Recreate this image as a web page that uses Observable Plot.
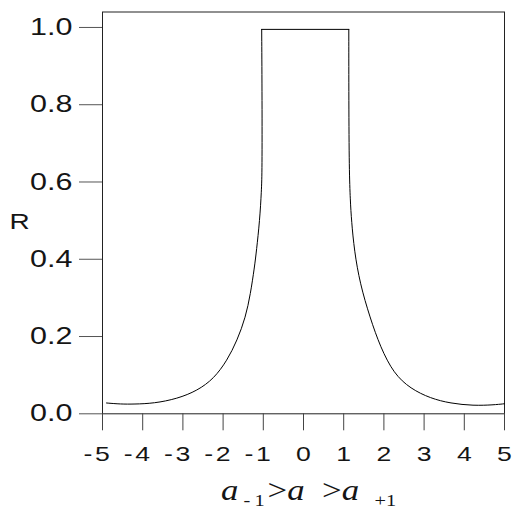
<!DOCTYPE html>
<html>
<head>
<meta charset="utf-8">
<script src="https://cdn.jsdelivr.net/npm/d3@7"></script>
<script src="https://cdn.jsdelivr.net/npm/@observablehq/plot@0.6"></script>
<style>
  html, body { margin: 0; padding: 0; background: #fff; }
</style>
</head>
<body>
<div id="chart"></div>
<script>
// Reflectance R across the ratio axis: a flat plateau between the two
// limits, falling off into long tails on either side.
const leftX  = [-4.90, -4.55, -4.22, -3.72, -3.14, -2.64, -2.23, -1.90, -1.65, -1.44, -1.32, -1.22, -1.17, -1.09, -1.045, -1.03, -1.03, -1.04];
const leftR  = [0.028, 0.025, 0.025, 0.027, 0.039, 0.060, 0.091, 0.138, 0.190, 0.250, 0.310, 0.379, 0.422, 0.500, 0.578, 0.629, 0.810, 0.995];
const topX   = [-1.04, 1.127];
const topR   = [0.995, 0.995];
const rightX = [1.127, 1.127, 1.137, 1.164, 1.194, 1.264, 1.405, 1.654, 1.915, 2.246, 2.662, 3.159, 3.657, 4.229, 4.726, 5.00];
const rightR = [0.995, 0.811, 0.630, 0.552, 0.500, 0.422, 0.337, 0.249, 0.172, 0.104, 0.065, 0.040, 0.027, 0.021, 0.023, 0.026];

const xTicks = [-5, -4, -3, -2, -1, 0, 1, 2, 3, 4, 5];
const yTicks = [0, 0.2, 0.4, 0.6, 0.8, 1.0];
const yLabel = "R";
// x-axis title pieces: a_{-1} > a > a_{+1}
const titleParts = [
  {text: "a", italic: true, sub: false},
  {text: "\u00a0-\u20091", italic: false, sub: true},
  {text: "\u200a>", italic: false, sub: false},
  {text: "a", italic: true, sub: false},
  {text: "\u00a0\u00a0>", italic: false, sub: false},
  {text: "a", italic: true, sub: false},
  {text: "\u00a0\u00a0\u00a0+1", italic: false, sub: true}
];

const rows = [
  ...leftX.map((x, i) => ({part: "left", x, r: leftR[i]})),
  ...topX.map((x, i) => ({part: "top", x, r: topR[i]})),
  ...rightX.map((x, i) => ({part: "right", x, r: rightR[i]}))
];

const W = 513, H = 510;
const ink = "#151515";

const chart = Plot.plot({
  width: W,
  height: H,
  marginLeft: 102,
  marginRight: 9,
  marginTop: 11.5,
  marginBottom: 96.7,
  x: {domain: [-5, 5]},
  y: {domain: [0, 1.04]},
  style: {fontFamily: "'Liberation Sans', Arial, sans-serif", color: ink, background: "#fff"},
  marks: [
    Plot.frame({stroke: "#222", strokeWidth: 1}),
    Plot.axisY(yTicks, {
      tickSize: 23, tickPadding: 7, tickFormat: d3.format(".1f"),
      fontSize: 24, stroke: "#555", fill: ink, label: null
    }),
    Plot.axisX(xTicks, {
      tickSize: 17, tickPadding: 15, tickFormat: d => String(Math.abs(d)),
      fontSize: 21, stroke: "#444", fill: ink, label: null
    }),
    // detached minus signs of the negative tick labels
    Plot.text(xTicks.filter(d => d < 0), {
      x: d => d, frameAnchor: "bottom", text: () => "-",
      textAnchor: "end", lineAnchor: "middle", dx: -10, dy: 40, fontSize: 21, fill: ink
    }),
    Plot.text([yLabel], {
      frameAnchor: "left", text: d => d, textAnchor: "middle", lineAnchor: "middle",
      dx: -83, dy: 9, fontSize: 22, fill: ink
    }),
    Plot.line(rows, {x: "x", y: "r", z: "part", curve: "basis", stroke: "#000", strokeWidth: 1})
  ]
});

document.getElementById("chart").append(chart);

// x-axis title with subscripts
const xs = chart.scale("x");
const SUB = 6;
const title = d3.select(chart).append("text")
  .attr("x", xs.apply(-2) - 1.5)
  .attr("y", H - 10)
  .attr("text-anchor", "start")
  .attr("font-family", "'Liberation Serif', 'Times New Roman', serif")
  .attr("fill", ink)
  .attr("font-size", 29);
let shift = 0;
for (const p of titleParts) {
  const dy = (p.sub ? SUB : 0) - shift;
  shift = p.sub ? SUB : 0;
  title.append("tspan")
    .attr("dy", dy)
    .attr("font-size", p.sub ? 17 : 29)
    .attr("font-style", p.italic ? "italic" : "normal")
    .text(p.text);
}

// widen the lettering horizontally
const STRETCH = 1.27;
d3.select(chart).selectAll("text").each(function () {
  const len = this.getComputedTextLength();
  if (len > 0) {
    const f = this === title.node() ? 1.2 : STRETCH;
    this.setAttribute("textLength", (len * f).toFixed(1));
    this.setAttribute("lengthAdjust", "spacingAndGlyphs");
  }
});
</script>
</body>
</html>
